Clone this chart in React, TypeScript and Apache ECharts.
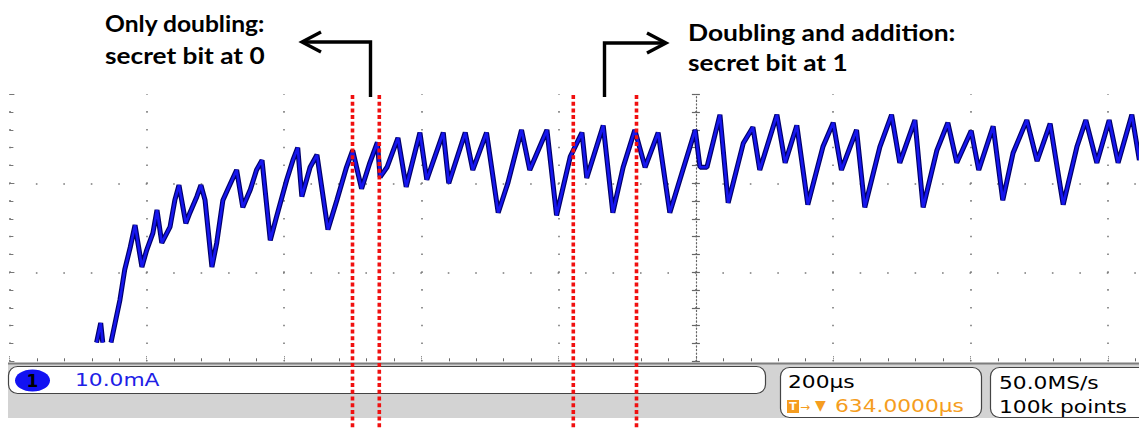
import React, { useEffect, useRef } from "react";
import * as echarts from "echarts";

// ---- data (time in µs from left edge of graticule, current in mA above bottom graticule line)
const TIME_US = [
  127, 133, 136, 140, 148, 161, 168, 176, 183, 193,
  200, 209, 215, 222, 234, 241, 247, 257, 263, 273,
  279, 285, 295, 302, 311, 318, 331, 340, 351, 360,
  368, 380, 389, 404, 413, 420, 426, 438, 448, 464,
  477, 491, 500, 513, 525, 536, 540, 550, 566, 578,
  598, 608, 632, 640, 664, 675, 695, 712, 726, 746,
  758, 783, 797, 817, 834, 841, 865, 879, 894, 911,
  926, 945, 962, 981, 999, 1006, 1016, 1035, 1047, 1069,
  1083, 1093, 1118, 1130, 1147, 1163, 1185, 1200, 1212, 1234,
  1246, 1268, 1285, 1297, 1319, 1331, 1351, 1367, 1380, 1401,
  1412, 1433, 1447, 1462, 1482, 1497, 1516, 1535, 1555, 1568,
  1584, 1602, 1615, 1635, 1646,
];
const CURRENT_MA: (number | null)[] = [
  2.1, 4.3, 2.1, null, 2.1, 6.9, 10.3, 12.8, 15.3, 10.6,
  12.5, 14.4, 17.0, 13.3, 15.1, 18.1, 19.8, 15.5, 16.7, 18.5,
  19.8, 18.1, 10.6, 13.3, 18.1, 19.3, 21.5, 17.3, 19.3, 21.5,
  22.6, 13.6, 16.2, 20.4, 22.6, 24.0, 18.5, 21.8, 23.2, 14.8,
  18.1, 21.8, 23.7, 19.4, 22.3, 24.6, 20.7, 21.8, 25.1, 19.6,
  25.7, 20.4, 25.7, 20.0, 25.7, 21.5, 25.7, 16.7, 20.0, 26.0,
  21.5, 26.0, 16.4, 23.0, 25.7, 20.6, 26.5, 16.7, 21.8, 26.0,
  21.8, 25.7, 16.7, 21.5, 26.0, 21.8, 21.8, 27.7, 17.8, 24.5,
  26.3, 21.5, 27.7, 22.3, 26.5, 17.6, 24.1, 26.8, 21.5, 26.0,
  17.3, 24.1, 27.7, 22.3, 27.1, 17.3, 23.7, 26.8, 22.3, 25.9,
  21.5, 26.4, 18.1, 23.4, 27.1, 22.5, 26.7, 17.6, 24.1, 27.1,
  22.3, 27.1, 22.3, 27.7, 22.6,
];

const X_MIN = 0;
const X_MAX = 1800;
const X_DIV = 200;
const Y_MIN = 0;
const Y_MAX = 30;
const Y_DIV = 10;
const TIME_CENTER = 1000;

const LEFT_NOTE = ["Only doubling:", "secret bit at 0"];
const RIGHT_NOTE = ["Doubling and addition:", "secret bit at 1"];
const CHANNEL_LABEL = "1";
const CHANNEL_SCALE = "10.0mA";
const TIMEBASE = "200µs";
const TRIGGER_POS = "634.0000µs";
const SAMPLE_RATE = "50.0MS/s";
const RECORD_LEN = "100k points";

// ---- layout
const GRID_LEFT = 9.4;
const GRID_TOP = 94.3;
const DIV_W = 137.3;
const DIV_H = 89;
const GRID_W = DIV_W * ((X_MAX - X_MIN) / X_DIV);
const GRID_H = DIV_H * ((Y_MAX - Y_MIN) / Y_DIV);
const CENTER_X = GRID_LEFT + DIV_W * ((TIME_CENTER - X_MIN) / X_DIV);

const SCOPE_FONT = "DejaVu Sans";
const NOTE_FONT = "Lato";
const STRETCH = 1.28;

function scopeText(text: string, x: number, y: number, fill: string, size = 17) {
  return {
    type: "text",
    x,
    y,
    scaleX: STRETCH,
    z: 60,
    style: {
      text,
      fill,
      fontFamily: SCOPE_FONT,
      fontSize: size,
      align: "left",
      verticalAlign: "middle",
      textAlign: "left",
      textVerticalAlign: "middle",
    },
  };
}

function noteText(text: string, x: number, y: number, sx: number) {
  return {
    type: "text",
    x,
    y,
    scaleX: sx,
    z: 60,
    style: {
      text,
      fill: "#000",
      fontFamily: NOTE_FONT,
      fontWeight: "bold",
      fontSize: 23,
      align: "left",
      verticalAlign: "middle",
      textAlign: "left",
      textVerticalAlign: "middle",
    },
  };
}

export default function App() {
  const ref = useRef<HTMLDivElement>(null);

  useEffect(() => {
    if (!ref.current) return;
    const chart = echarts.init(ref.current, null, { renderer: "svg" });
    const data = TIME_US.map((t, i) => [t, CURRENT_MA[i] == null ? "-" : CURRENT_MA[i]]);

    const dotColor = "#7a7a7a";
    const redX = [352.5, 379.3, 573.3, 636.5];

    const graphic: any[] = [
      // bottom status bar
      { type: "rect", z: 50, shape: { x: 8, y: 363, width: 1131, height: 55 }, style: { fill: "#d3d3d3" } },
      { type: "line", z: 51, shape: { x1: 8, y1: 363.5, x2: 1139, y2: 363.5 }, style: { stroke: "#7d7d7d", lineWidth: 2 } },
      { type: "rect", z: 52, shape: { x: 8.5, y: 366.5, width: 757, height: 27, r: 9 }, style: { fill: "#fff", stroke: "#444", lineWidth: 1.2 } },
      { type: "ellipse", z: 53, shape: { cx: 32.5, cy: 380.5, rx: 17.5, ry: 11 }, style: { fill: "#1212f2" } },
      {
        type: "text", z: 54, x: 32.5, y: 381,
        style: { text: CHANNEL_LABEL, fill: "#000", fontFamily: SCOPE_FONT, fontSize: 17, fontWeight: "bold", align: "center", verticalAlign: "middle", textAlign: "center", textVerticalAlign: "middle" },
      },
      scopeText(CHANNEL_SCALE, 75, 380.5, "#2020e6"),
      { type: "rect", z: 52, shape: { x: 780.5, y: 367.5, width: 201, height: 50, r: 9 }, style: { fill: "#fff", stroke: "#444", lineWidth: 1.2 } },
      scopeText(TIMEBASE, 788, 382, "#000"),
      { type: "rect", z: 53, shape: { x: 787, y: 400, width: 12, height: 13 }, style: { fill: "#f59d20" } },
      {
        type: "text", z: 54, x: 793, y: 406.5,
        style: { text: "T", fill: "#fff", fontFamily: SCOPE_FONT, fontSize: 11, fontWeight: "bold", align: "center", verticalAlign: "middle", textAlign: "center", textVerticalAlign: "middle" },
      },
      {
        type: "text", z: 54, x: 800, y: 406.5,
        style: { text: "→", fill: "#f59d20", fontFamily: SCOPE_FONT, fontSize: 12, align: "left", verticalAlign: "middle", textAlign: "left", textVerticalAlign: "middle" },
      },
      {
        type: "text", z: 54, x: 815, y: 405,
        style: { text: "▼", fill: "#f59d20", fontFamily: SCOPE_FONT, fontSize: 14, align: "left", verticalAlign: "middle", textAlign: "left", textVerticalAlign: "middle" },
      },
      scopeText(TRIGGER_POS, 835, 406.5, "#f59d20"),
      { type: "rect", z: 52, shape: { x: 990.5, y: 367.5, width: 170, height: 50, r: 9 }, style: { fill: "#fff", stroke: "#444", lineWidth: 1.2 } },
      scopeText(SAMPLE_RATE, 999, 383, "#000"),
      scopeText(RECORD_LEN, 999, 407, "#000"),

      // annotations
      noteText(LEFT_NOTE[0], 105, 22.5, 1.07),
      noteText(LEFT_NOTE[1], 105, 55, 1.14),
      noteText(RIGHT_NOTE[0], 688, 32, 1.15),
      noteText(RIGHT_NOTE[1], 688, 62.5, 1.14),
      { type: "polyline", z: 60, shape: { points: [[370.5, 97], [370.5, 42], [303, 42]] }, style: { stroke: "#000", lineWidth: 3.4, fill: null } },
      { type: "polyline", z: 60, shape: { points: [[321, 32], [302, 42], [321, 52]] }, style: { stroke: "#000", lineWidth: 3.4, fill: null } },
      { type: "polyline", z: 60, shape: { points: [[604.5, 97], [604.5, 43], [665, 43]] }, style: { stroke: "#000", lineWidth: 3.4, fill: null } },
      { type: "polyline", z: 60, shape: { points: [[647, 33], [666, 43], [647, 53]] }, style: { stroke: "#000", lineWidth: 3.4, fill: null } },
      ...redX.map((x) => ({
        type: "line",
        z: 70,
        shape: { x1: x, y1: 95, x2: x, y2: 428 },
        style: { stroke: "#f01010", lineWidth: 3.6, lineDash: [4, 2.7] },
      })),
    ];

    const centerAxis = (inside: boolean, showLine: boolean) => ({
      type: "value",
      min: Y_MIN,
      max: Y_MAX,
      interval: 2,
      position: "left",
      offset: -(CENTER_X - GRID_LEFT),
      axisLine: { show: showLine, onZero: false, lineStyle: { color: "#666", width: 1.2, type: [1.2, 2.36] } },
      axisTick: { show: true, inside, length: 4, lineStyle: { color: "#666", width: 1.2 } },
      axisLabel: { show: false },
      splitLine: { show: false },
    });

    chart.setOption({
      animation: false,
      backgroundColor: "#fff",
      grid: {
        left: GRID_LEFT,
        top: GRID_TOP,
        width: GRID_W,
        height: GRID_H,
        containLabel: false,
        outerBoundsMode: "none",
      },
      xAxis: {
        type: "value",
        min: X_MIN,
        max: X_MAX,
        interval: X_DIV,
        axisLine: { show: false },
        axisLabel: { show: false },
        axisTick: { show: true, inside: true, length: 6, lineStyle: { color: "#666", width: 1, type: [1, 1] } },
        minorTick: { show: true, splitNumber: 5, length: 3, lineStyle: { color: "#666", width: 1 } },
        splitLine: {
          show: true,
          showMinLine: true,
          showMaxLine: false,
          lineStyle: { color: dotColor, width: 1.6, type: [1.6, DIV_H / 5 - 1.6], dashOffset: 0.8 },
        },
      },
      yAxis: [
        {
          type: "value",
          min: Y_MIN,
          max: Y_MAX,
          interval: Y_DIV,
          position: "left",
          axisLine: { show: false, onZero: false },
          axisLabel: { show: false },
          axisTick: { show: true, inside: true, length: 5, lineStyle: { color: "#777", width: 1 } },
          minorTick: { show: true, splitNumber: 5, length: 4, lineStyle: { color: "#777", width: 1 } },
          splitLine: {
            show: true,
            showMinLine: false,
            showMaxLine: false,
            lineStyle: { color: dotColor, width: 1.6, type: [1.6, DIV_W / 5 - 1.6], dashOffset: 0.8 },
          },
        },
        centerAxis(true, true),
        centerAxis(false, false),
      ],
      series: [
        {
          type: "line",
          name: "current-edge",
          data,
          showSymbol: false,
          connectNulls: false,
          lineStyle: { color: "#00006a", width: 5 },
          z: 3,
        },
        {
          type: "line",
          name: "current",
          data,
          showSymbol: false,
          connectNulls: false,
          lineStyle: { color: "#1616ee", width: 2.6 },
          z: 4,
        },
      ],
      graphic,
    });

    return () => chart.dispose();
  }, []);

  return (
    <div
      ref={ref}
      style={{ position: "fixed", left: 0, top: 0, width: 1139, height: 428, overflow: "hidden", background: "#fff" }}
    />
  );
}
